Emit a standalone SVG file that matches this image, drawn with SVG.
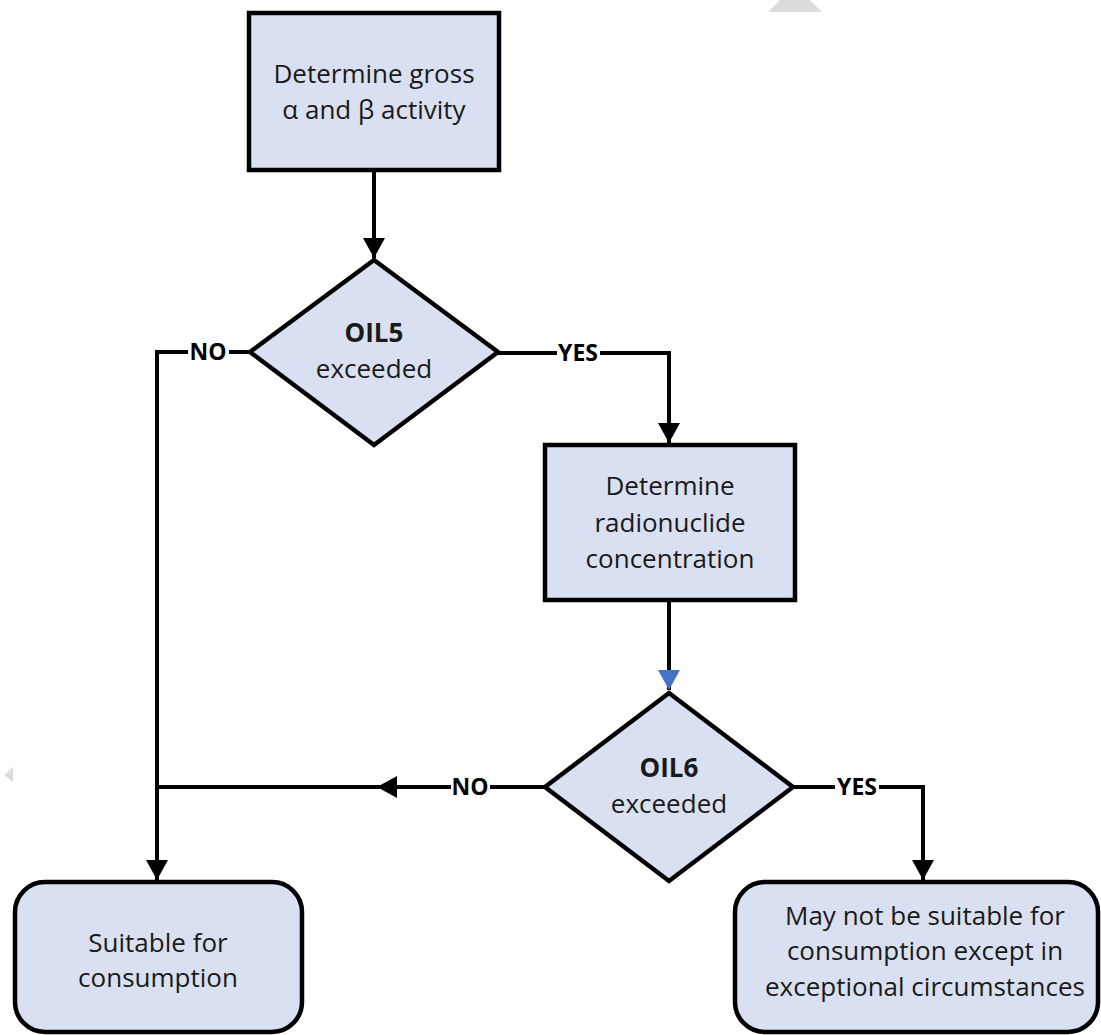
<svg xmlns="http://www.w3.org/2000/svg" width="1101" height="1035" viewBox="0 0 1101 1035">
<defs>
<style>
.box{fill:#D9E0F1;stroke:#000;stroke-width:4.5}
.t{font-family:"Open Sans","Noto Sans",sans-serif;font-size:26px;fill:#1a1a1a;text-anchor:middle}
.b{font-weight:bold}
.lbl{font-family:"Open Sans","Noto Sans",sans-serif;font-size:23px;font-weight:bold;fill:#000;text-anchor:middle}
.ln{fill:none;stroke:#000;stroke-width:4}
.ghost{fill:#DCDCDC}
</style>
<marker id="ah" markerUnits="userSpaceOnUse" markerWidth="22" markerHeight="22" viewBox="0 0 22 22" refX="20" refY="11" orient="auto">
<path d="M0,0 L20,11 L0,22 Z" fill="#000"/>
</marker>
<marker id="ahb" markerUnits="userSpaceOnUse" markerWidth="22" markerHeight="22" viewBox="0 0 22 22" refX="20" refY="11" orient="auto">
<path d="M0,0 L20,11 L0,22 Z" fill="#4472C4"/>
</marker>
</defs>
<rect width="1101" height="1035" fill="#fff"/>
<polygon class="ghost" points="780,0 810,0 822,12 768,12"/>
<polygon class="ghost" points="4,775 13,767 13,782"/>

<g id="connectors">
<path class="ln" d="M374,170 V258" marker-end="url(#ah)"/>
<path class="ln" d="M250,352 H229"/>
<path class="ln" d="M188,352 H157 V880" marker-end="url(#ah)"/>
<text class="lbl" x="208" y="360">NO</text>
<path class="ln" d="M498,353 H557"/>
<path class="ln" d="M600,353 H669 V443" marker-end="url(#ah)"/>
<text class="lbl" x="578" y="361">YES</text>
<path class="ln" d="M669,600 V690" marker-end="url(#ahb)"/>
<path class="ln" d="M545,787 H490"/>
<path class="ln" d="M451,787 H157"/>
<polygon points="377,787 397,776 397,798" fill="#000"/>
<text class="lbl" x="470" y="795">NO</text>
<path class="ln" d="M793,787 H835"/>
<path class="ln" d="M879,787 H923 V880" marker-end="url(#ah)"/>
<text class="lbl" x="857" y="795">YES</text>
</g>

<g id="n1">
<rect class="box" x="249" y="13" width="250" height="157"/>
<text class="t" x="374" y="83">Determine gross</text>
<text class="t" x="374" y="119">α and β activity</text>
</g>
<g id="n2">
<polygon class="box" points="374,260 498,352 374,445 250,352"/>
<text class="t b" x="374" y="342">OIL5</text>
<text class="t" x="374" y="378">exceeded</text>
</g>
<g id="n3">
<rect class="box" x="545" y="445" width="250" height="155"/>
<text class="t" x="670" y="495">Determine</text>
<text class="t" x="670" y="532">radionuclide</text>
<text class="t" x="670" y="568">concentration</text>
</g>
<g id="n4">
<polygon class="box" points="669,693 793,787 669,881 545,787"/>
<text class="t b" x="669" y="777">OIL6</text>
<text class="t" x="669" y="813">exceeded</text>
</g>
<g id="n5">
<rect class="box" x="15" y="882" width="287" height="150" rx="30" ry="30"/>
<text class="t" x="158" y="952">Suitable for</text>
<text class="t" x="158" y="987">consumption</text>
</g>
<g id="n6">
<rect class="box" x="735" y="882" width="363" height="150" rx="30" ry="30"/>
<text class="t" x="925" y="925">May not be suitable for</text>
<text class="t" x="925" y="960">consumption except in</text>
<text class="t" x="925" y="996">exceptional circumstances</text>
</g>
</svg>
